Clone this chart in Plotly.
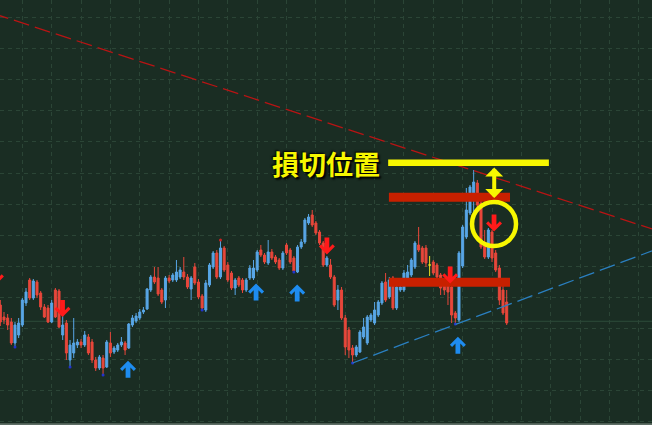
import plotly.graph_objects as go

# ---------------- data (prices in chart points) ----------------
candle_index = list(range(139))
open_p = [120,108,107,103,82,90,100,122,145,127,143,132,118,117,103,135,134,90,102,65,
          72,80,83,80,88,83,65,57,67,58,82,73,75,80,82,77,100,104,107,113,
          116,135,148,147,135,125,147,145,145,148,153,148,136,158,143,129,115,140,158,172,
          148,177,160,152,137,147,145,135,147,147,155,175,170,162,173,168,165,157,180,175,
          167,153,178,183,202,210,202,193,182,160,160,148,125,135,107,95,77,70,73,88,
          82,105,102,110,122,143,128,147,117,135,135,143,150,158,180,177,177,160,163,160,
          150,142,143,138,112,105,159,188,212,227,242,222,182,168,193,172,157,135,123]
high_p = [125,113,111,107,103,107,127,137,147,146,145,134,121,120,125,137,136,110,105,85,
          107,86,86,94,91,86,68,70,70,85,93,79,82,88,84,102,110,112,116,118,
          137,150,158,158,137,149,150,152,165,158,168,151,149,162,146,131,145,162,174,175,
          185,179,163,154,147,149,147,147,160,165,175,180,172,185,176,170,167,174,182,177,
          169,180,186,207,211,215,204,195,184,169,166,150,140,138,110,98,80,80,95,107,
          110,112,123,125,144,152,148,149,140,140,155,160,167,184,198,179,180,169,165,162,
          152,145,146,142,114,174,200,237,240,255,245,225,195,197,195,175,160,140,135]
low_p = [99,101,95,80,78,87,98,119,125,125,127,115,107,102,102,107,97,85,65,58,
         67,77,77,78,70,62,54,55,50,57,68,71,73,78,70,76,98,102,105,111,
         115,133,141,129,121,117,142,143,143,146,145,136,125,140,126,115,113,138,156,146,
         146,153,143,135,130,138,132,133,145,145,153,168,161,160,165,161,155,155,170,161,
         153,152,176,181,200,198,190,180,158,158,146,118,115,105,70,67,62,68,72,86,
         80,103,100,108,120,123,126,115,115,133,133,141,148,156,173,161,158,149,150,146,
         130,130,120,102,101,103,157,186,210,212,218,176,166,166,163,153,120,110,100]
close_p = [103,105,100,82,100,102,125,133,127,144,130,118,108,103,122,108,98,100,72,80,
           82,83,80,90,72,65,57,68,57,83,72,77,80,83,75,101,107,109,113,115,
           136,148,143,131,123,147,144,150,153,155,148,138,147,142,128,117,142,160,172,148,
           177,155,145,137,145,140,135,145,157,157,173,170,163,173,167,163,157,172,172,163,
           154,178,183,205,208,200,192,182,160,167,148,120,135,107,78,75,70,78,93,98,
           108,110,115,123,142,125,145,117,138,138,152,153,165,182,175,163,162,160,152,148,
           137,135,133,110,107,172,198,215,238,243,220,178,168,195,167,155,125,112,102]

sell_signal_idx = [-1.2, 16.95, 89.0, 122.6, 134.55]
sell_signal_price = [149, 116.5, 179, 150, 202]
buy_signal_idx = [34.8, 69.7, 80.9, 124.7]
buy_signal_price = [55.7, 133, 132, 79.7]
swing_low_idx = [4, 19, 28, 55, 80, 96, 124]
swing_high_idx = [60]

resistance_idx = [-2, 180]
resistance_price = [411.6, 193.2]
support_idx = [96, 180]
support_price = [62, 177.4]

zone_idx = [105.9, 138.9]
zone_upper = [223.3, 232.3]
zone_lower = [138.3, 147.3]
stop_idx = [105.7, 149.5]
stop_band = [259.1, 265.5]
stop_label = "損切位置"
label_pos = (88.8, 261.3)
gap_arrow = (134.6, 227, 259)
circle_pos = (134.55, 201)
baseline_price = 103.7

# ---------------- styling ----------------
BG = "#1a2d23"
GRID = "#2b4536"
BLUE = "#58a6e6"
RED = "#e8473b"
YEL = "#f7f700"

fig = go.Figure()

normal = [i for i in candle_index if open_p[i] != close_p[i]]
doji = [i for i in candle_index if open_p[i] == close_p[i]]

fig.add_trace(go.Candlestick(
    x=normal,
    open=[open_p[i] for i in normal], high=[high_p[i] for i in normal],
    low=[low_p[i] for i in normal], close=[close_p[i] for i in normal],
    increasing=dict(line=dict(color=BLUE, width=1), fillcolor=BLUE),
    decreasing=dict(line=dict(color=RED, width=1), fillcolor=RED),
    whiskerwidth=0, showlegend=False, hoverinfo="skip"))
fig.add_trace(go.Candlestick(
    x=doji,
    open=[open_p[i] for i in doji], high=[high_p[i] for i in doji],
    low=[low_p[i] for i in doji], close=[close_p[i] for i in doji],
    increasing=dict(line=dict(color="#e8e020", width=1), fillcolor="#e8e020"),
    decreasing=dict(line=dict(color="#e8e020", width=1), fillcolor="#e8e020"),
    whiskerwidth=0, showlegend=False, hoverinfo="skip"))

fig.add_trace(go.Scatter(x=swing_low_idx, y=[low_p[i] for i in swing_low_idx], mode="markers",
                         marker=dict(size=3, color="#2233cc"), showlegend=False, hoverinfo="skip"))
fig.add_trace(go.Scatter(x=swing_high_idx, y=[high_p[i] for i in swing_high_idx], mode="markers",
                         marker=dict(size=3, color="#cc2222"), showlegend=False, hoverinfo="skip"))

shapes = []
shapes.append(dict(type="line", xref="x", yref="y", x0=-5, x1=185, y0=baseline_price, y1=baseline_price,
                   line=dict(color="#2c4a39", width=1), layer="below"))
shapes.append(dict(type="line", xref="x", yref="y", x0=resistance_idx[0], y0=resistance_price[0],
                   x1=resistance_idx[1], y1=resistance_price[1],
                   line=dict(color="#b81414", width=1.3, dash="16px,6px")))
shapes.append(dict(type="line", xref="x", yref="y", x0=support_idx[0], y0=support_price[0],
                   x1=support_idx[1], y1=support_price[1],
                   line=dict(color="#2a7fc0", width=1.3, dash="16px,6px")))
for lo, hi in (zone_upper, zone_lower):
    shapes.append(dict(type="rect", xref="x", yref="y", x0=zone_idx[0], x1=zone_idx[1], y0=lo, y1=hi,
                       fillcolor="#c82000", line=dict(width=0), layer="above"))
shapes.append(dict(type="rect", xref="x", yref="y", x0=stop_idx[0], x1=stop_idx[1],
                   y0=stop_band[0], y1=stop_band[1], fillcolor=YEL, line=dict(width=0), layer="above"))

UP = "M 0 8.5 L 8 0.5 L 5.8 -1.7 L 2.4 1.7 L 2.4 -8.5 L -2.4 -8.5 L -2.4 1.7 L -5.8 -1.7 L -8 0.5 Z"
DOWN = "M 0 -8.5 L 8 -0.5 L 5.8 1.7 L 2.4 -1.7 L 2.4 8.5 L -2.4 8.5 L -2.4 -1.7 L -5.8 1.7 L -8 -0.5 Z"
for xi, yp in zip(buy_signal_idx, buy_signal_price):
    shapes.append(dict(type="path", xref="x", yref="y", xsizemode="pixel", ysizemode="pixel",
                       xanchor=xi, yanchor=yp, path=UP, fillcolor="#1e8cf0", line=dict(width=0), layer="above"))
for xi, yp in zip(sell_signal_idx, sell_signal_price):
    shapes.append(dict(type="path", xref="x", yref="y", xsizemode="pixel", ysizemode="pixel",
                       xanchor=xi, yanchor=yp, path=DOWN, fillcolor="#ff1a1a", line=dict(width=0), layer="above"))

shapes.append(dict(type="circle", xref="x", yref="y", xsizemode="pixel", ysizemode="pixel",
                   xanchor=circle_pos[0], yanchor=circle_pos[1], x0=-22, x1=22, y0=-22, y1=22,
                   line=dict(color=YEL, width=4.5), layer="above"))
shapes.append(dict(type="line", xref="paper", yref="paper", x0=0, x1=1, y0=0.002, y1=0.002,
                   line=dict(color="#5f6f66", width=2)))

annotations = [
    dict(x=label_pos[0], y=label_pos[1], xref="x", yref="y", text=stop_label, showarrow=False,
         font=dict(family="Noto Sans CJK JP", size=27, color=YEL, weight="bold",
                   shadow="2px 2px 2px #000, -1px -1px 2px #000"),
         xanchor="center", yanchor="middle"),
    dict(x=gap_arrow[0], y=gap_arrow[1], ax=gap_arrow[0], ay=gap_arrow[2], xref="x", yref="y",
         axref="x", ayref="y", text="", showarrow=True, arrowside="end+start",
         arrowhead=1, startarrowhead=1, arrowsize=0.75, startarrowsize=0.75,
         arrowwidth=4, arrowcolor=YEL),
]

fig.update_layout(
    width=652, height=425, margin=dict(l=0, r=0, t=0, b=0),
    paper_bgcolor=BG, plot_bgcolor=BG, boxgap=0.22, showlegend=False,
    shapes=shapes, annotations=annotations,
    xaxis=dict(range=[-0.087, 177.6], showgrid=True, gridcolor=GRID, griddash="4px,4px", gridwidth=1,
               tick0=6, dtick=8, showticklabels=False, zeroline=False, showline=False,
               rangeslider=dict(visible=False), fixedrange=True),
    yaxis=dict(range=[0, 425], showgrid=True, gridcolor=GRID, griddash="4px,4px", gridwidth=1,
               tick0=3.2, dtick=31.1, showticklabels=False, zeroline=False, showline=False,
               fixedrange=True),
)

fig.write_html("out.html", config={"displayModeBar": False},
               post_script="document.body.style.margin='0';document.body.style.overflow='hidden';")
